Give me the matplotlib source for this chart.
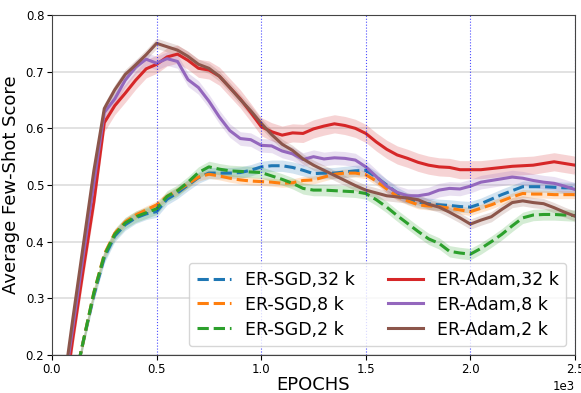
import numpy as np
import matplotlib
matplotlib.use("Agg")
import matplotlib.pyplot as plt

# Epochs at which the few-shot score was logged
EPOCHS = list(range(50, 2501, 50))

# Mean scores per run
SGD_32K = [0.06, 0.14, 0.225, 0.305, 0.372, 0.41, 0.43, 0.442, 0.449, 0.453,
           0.475, 0.486, 0.5, 0.513, 0.521, 0.521, 0.521, 0.522, 0.526, 0.532,
           0.534, 0.534, 0.531, 0.526, 0.52, 0.521, 0.521, 0.523, 0.525, 0.526,
           0.514, 0.5, 0.486, 0.476, 0.47, 0.467, 0.465, 0.464, 0.462, 0.461,
           0.467, 0.475, 0.483, 0.49, 0.497, 0.497, 0.497, 0.496, 0.495, 0.495]
SGD_8K = [0.06, 0.14, 0.225, 0.31, 0.378, 0.415, 0.435, 0.447, 0.456, 0.465,
          0.48, 0.49, 0.502, 0.514, 0.519, 0.516, 0.512, 0.509, 0.507, 0.506,
          0.505, 0.503, 0.504, 0.508, 0.509, 0.514, 0.519, 0.521, 0.521, 0.518,
          0.507, 0.493, 0.48, 0.472, 0.465, 0.463, 0.462, 0.459, 0.456, 0.453,
          0.459, 0.465, 0.472, 0.479, 0.485, 0.484, 0.484, 0.483, 0.483, 0.483]
SGD_2K = [0.055, 0.14, 0.225, 0.31, 0.376, 0.413, 0.433, 0.444, 0.451, 0.458,
          0.48, 0.49, 0.505, 0.522, 0.532, 0.528, 0.525, 0.524, 0.523, 0.522,
          0.516, 0.51, 0.503, 0.494, 0.491, 0.491, 0.49, 0.489, 0.488, 0.485,
          0.474, 0.461, 0.446, 0.432, 0.418, 0.405, 0.397, 0.383, 0.38, 0.378,
          0.388, 0.4, 0.413, 0.428, 0.442, 0.447, 0.448, 0.448, 0.447, 0.446]
ADAM_32K = [0.10, 0.23, 0.352, 0.47, 0.61, 0.64, 0.662, 0.685, 0.705, 0.713,
            0.726, 0.731, 0.72, 0.706, 0.703, 0.692, 0.672, 0.652, 0.628, 0.603,
            0.594, 0.588, 0.592, 0.591, 0.599, 0.604, 0.608, 0.605, 0.6, 0.591,
            0.576, 0.563, 0.553, 0.547, 0.54, 0.535, 0.532, 0.531, 0.527, 0.527,
            0.527, 0.529, 0.531, 0.533, 0.534, 0.535, 0.538, 0.541, 0.538, 0.535]
ADAM_8K = [0.124, 0.25, 0.377, 0.503, 0.628, 0.652, 0.685, 0.708, 0.722, 0.715,
           0.723, 0.718, 0.686, 0.672, 0.648, 0.62, 0.596, 0.582, 0.58, 0.57,
           0.569, 0.56, 0.555, 0.545, 0.55, 0.546, 0.548, 0.547, 0.544, 0.532,
           0.515, 0.498, 0.487, 0.481, 0.481, 0.484, 0.491, 0.494, 0.493, 0.498,
           0.505, 0.508, 0.511, 0.514, 0.512, 0.508, 0.505, 0.503, 0.498, 0.492]
ADAM_2K = [0.13, 0.265, 0.395, 0.525, 0.635, 0.668, 0.695, 0.712, 0.73, 0.75,
           0.744, 0.738, 0.727, 0.713, 0.706, 0.692, 0.672, 0.651, 0.631, 0.609,
           0.589, 0.572, 0.561, 0.546, 0.535, 0.526, 0.517, 0.508, 0.499, 0.491,
           0.486, 0.481, 0.479, 0.477, 0.474, 0.466, 0.461, 0.452, 0.442, 0.431,
           0.438, 0.444, 0.457, 0.469, 0.472, 0.469, 0.467, 0.46, 0.452, 0.445]

# half-width of the shaded spread around each mean
SPREAD = {"ER-SGD,32 k": 0.010, "ER-SGD,8 k": 0.007, "ER-SGD,2 k": 0.010,
          "ER-Adam,32 k": 0.016, "ER-Adam,8 k": 0.012, "ER-Adam,2 k": 0.009}

RUNS = [
    ("ER-SGD,32 k", SGD_32K, "#1f77b4", "--"),
    ("ER-SGD,8 k", SGD_8K, "#ff7f0e", "--"),
    ("ER-SGD,2 k", SGD_2K, "#2ca02c", "--"),
    ("ER-Adam,32 k", ADAM_32K, "#d62728", "-"),
    ("ER-Adam,8 k", ADAM_8K, "#9467bd", "-"),
    ("ER-Adam,2 k", ADAM_2K, "#8c564b", "-"),
]


def main() -> None:
    fig = plt.figure(figsize=(5.81, 3.93), dpi=100)
    ax = fig.add_axes([0.0895, 0.0967, 0.9002, 0.8651])

    x = np.array(EPOCHS)
    for name, vals, color, ls in RUNS:
        y = np.array(vals)
        s = SPREAD[name]
        ax.fill_between(x, y - s, y + s, color=color, alpha=0.2, lw=0)
        ax.plot(x, y, ls, color=color, lw=2.2, label=name)

    for v in [500, 1000, 1500, 2000, 2500]:
        ax.axvline(v, color="blue", ls=":", lw=0.8, alpha=0.7)

    ax.set_xlim(0, 2500)
    ax.set_ylim(0.2, 0.8)
    ax.yaxis.grid(True, color="#dddddd", lw=1.2)
    ax.set_axisbelow(True)
    ax.ticklabel_format(axis="x", style="sci", scilimits=(3, 3))
    ax.tick_params(labelsize=8.5, pad=2)
    off = ax.xaxis.get_offset_text()
    off.set_fontsize(8.5)
    off.set_horizontalalignment("right")
    for sp in ax.spines.values():
        sp.set_color("#444444")

    ax.set_xlabel("EPOCHS", fontsize=13, labelpad=0)
    ax.set_ylabel("Average Few-Shot Score", fontsize=13)
    ax.legend(ncol=2, loc="lower right", fontsize=12.5, handlelength=2.0,
              columnspacing=1.9, borderpad=0.45, labelspacing=0.4)

    fig.savefig("out.png", dpi=100)
    plt.close(fig)


if __name__ == "__main__":
    main()
